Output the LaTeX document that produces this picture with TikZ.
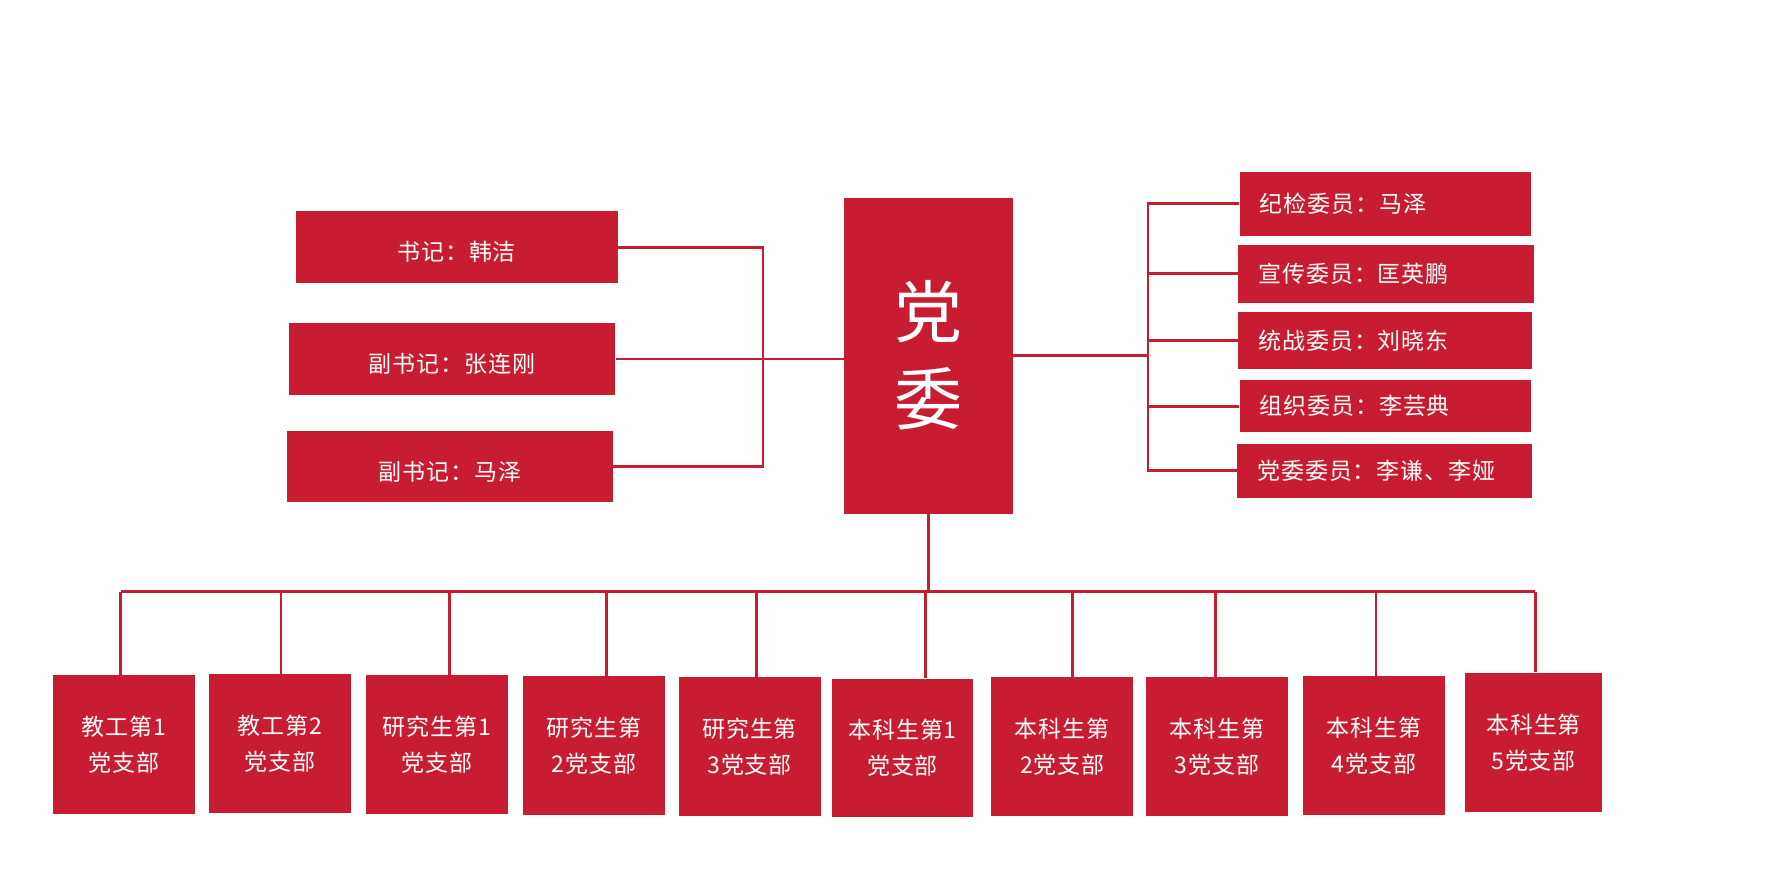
\documentclass[tikz,border=0pt]{standalone}
\usepackage{fontspec}
\newfontfamily\cjk[LetterSpace=4]{Noto Sans CJK SC}
\definecolor{partyred}{HTML}{C81D31}
\tikzset{
    orgbox/.style={fill=partyred, text=white, inner sep=0pt, align=center,
        font=\cjk\fontsize{11.5}{18}\selectfont},
    leaderbox/.style={orgbox, text height=1.45em, text depth=0.12em},
    memberbox/.style={orgbox, inner xsep=10pt, align=left},
    branch/.style={orgbox, minimum width=71.1pt, minimum height=69.4pt},
    link/.style={draw=partyred, line width=1.35pt}
}

\begin{document}
\begin{tikzpicture}[x=0.5645pt, y=-0.5645pt]
    \useasboundingbox (0,0) rectangle (1567,776);
    % Committee
    \node[orgbox, minimum width=84.1pt, minimum height=158.1pt,
        font=\cjk\fontsize{34}{43.5}\selectfont] (dw) at (822.5,315) {党\\委};
    % Secretaries
    \node[leaderbox, minimum width=160.9pt, minimum height=36.1pt] (sj) at (404.5,219) {书记：韩洁};
    \node[leaderbox, minimum width=163.1pt, minimum height=36.1pt] (fsja) at (400.5,318) {副书记：张连刚};
    \node[leaderbox, minimum width=163.1pt, minimum height=35.6pt] (fsjb) at (398.5,413.5) {副书记：马泽};
    % Members
    \node[memberbox, text width=125.6pt, minimum height=32.2pt] (jj) at (1227,180.5) {纪检委员：马泽};
    \node[memberbox, text width=127.9pt, minimum height=28.8pt] (xc) at (1228,242.5) {宣传委员：匡英鹏};
    \node[memberbox, text width=126.8pt, minimum height=28.8pt] (tz) at (1227,301.5) {统战委员：刘晓东};
    \node[memberbox, text width=125.6pt, minimum height=26pt] (zz) at (1227,360) {组织委员：李芸典};
    \node[memberbox, text width=127.3pt, minimum height=27.1pt] (wy) at (1226.5,417) {党委委员：李谦、李娅};
    % Branches
    \node[branch] (b1) at (110,659.5) {教工第1\\党支部};
    \node[branch] (b2) at (248,658.5) {教工第2\\党支部};
    \node[branch] (b3) at (387,659.5) {研究生第1\\党支部};
    \node[branch] (b4) at (526,660.5) {研究生第\\2党支部};
    \node[branch] (b5) at (664,661.5) {研究生第\\3党支部};
    \node[branch, minimum width=70.6pt] (b6) at (799.5,662.5) {本科生第1\\党支部};
    \node[branch] (b7) at (941,661.5) {本科生第\\2党支部};
    \node[branch] (b8) at (1078,661.5) {本科生第\\3党支部};
    \node[branch] (b9) at (1217,660.5) {本科生第\\4党支部};
    \node[branch, minimum width=68.3pt] (b10) at (1358.5,657.5) {本科生第\\5党支部};
    % Left bracket
    \coordinate (lbar) at (676,318);
    \draw[link] (sj.east) -| (lbar) |- (fsjb.east);
    \draw[link] (fsja.east) -- (fsja.east -| dw.west);
    % Right bracket
    \coordinate (rbar) at (1017,315);
    \draw[link] (dw.east) -- (rbar);
    \draw[link] (jj.west) -| (rbar) |- (wy.west);
    \foreach \n in {xc, tz, zz}
        \draw[link] (\n.west) -- (\n.west -| rbar);
    % Bus to branches
    \foreach \i/\x in {1/107, 2/249, 3/398, 4/537, 5/670, 6/820, 7/950, 8/1077, 9/1219, 10/1360} {
        \coordinate (t\i) at (\x,524);
        \draw[link] (t\i) -- (t\i |- b\i.north);
    }
    \draw[link] (t1) -- (t10);
    \draw[link] (dw.south) -- (dw.south |- t6);
\end{tikzpicture}
\end{document}
